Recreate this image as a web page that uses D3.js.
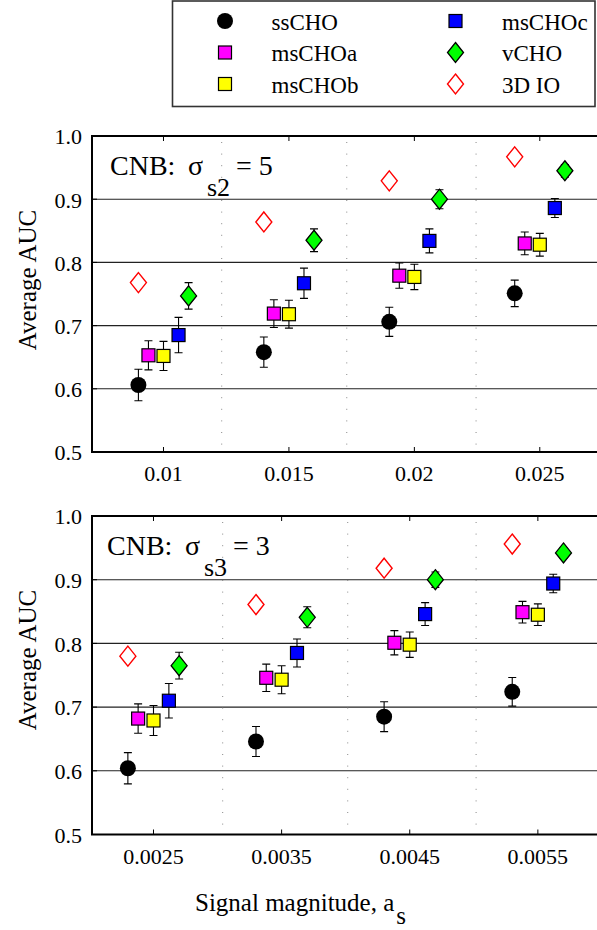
<!DOCTYPE html>
<html>
<head>
<meta charset="utf-8">
<script src="https://cdn.jsdelivr.net/npm/d3@7"></script>
<style>
  body { margin: 0; background: #fff; }
  svg { display: block; font-family: "Liberation Serif", "DejaVu Serif", serif; }
</style>
</head>
<body>
<svg id="chart" width="597" height="930"></svg>
<script>
var seriesNames = ['ssCHO', 'msCHOa', 'msCHOb', 'msCHOc', 'vCHO', '3D IO'];
var seriesOffsets = [-0.2, -0.12, 0, 0.12, 0.2, -0.2];
var groupIndex = [1, 2, 3, 4];
var yTicks = [0.5, 0.6, 0.7, 0.8, 0.9, 1.0];
var yGrid = [0.6, 0.7, 0.8, 0.9];

// panel 1 : CNB sigma_s2 = 5
var topTickLabels = ['0.01', '0.015', '0.02', '0.025'];
var topDotted = [1.464, 2.461, 3.492];
var topMeans = [
  [0.606, 0.658, 0.706, 0.751],
  [0.653, 0.719, 0.779, 0.830],
  [0.652, 0.718, 0.777, 0.828],
  [0.685, 0.767, 0.834, 0.886],
  [0.747, 0.835, 0.900, 0.945],
  [0.768, 0.864, 0.929, 0.967]
];
var topErrors = [
  [0.025, 0.024, 0.023, 0.021],
  [0.023, 0.022, 0.020, 0.018],
  [0.023, 0.022, 0.020, 0.018],
  [0.028, 0.024, 0.019, 0.015],
  [0.021, 0.018, 0.015, 0.010],
  null
];

// panel 2 : CNB sigma_s3 = 3
var bottomTickLabels = ['0.0025', '0.0035', '0.0045', '0.0055'];
var bottomDotted = [1.540, 2.516, 3.518];
var bottomMeans = [
  [0.604, 0.646, 0.685, 0.724],
  [0.682, 0.746, 0.801, 0.849],
  [0.679, 0.743, 0.798, 0.845],
  [0.710, 0.785, 0.846, 0.894],
  [0.765, 0.841, 0.900, 0.942],
  [0.780, 0.861, 0.918, 0.956]
];
var bottomErrors = [
  [0.0245, 0.0235, 0.0235, 0.0225],
  [0.023, 0.0215, 0.019, 0.017],
  [0.0235, 0.022, 0.020, 0.017],
  [0.027, 0.022, 0.018, 0.0145],
  [0.021, 0.0165, 0.012, 0.008],
  null
];

var svg = d3.select('#chart');

function diamond(x, y) {
  return 'M' + x + ',' + (y - 10) + 'L' + (x + 8) + ',' + y +
    'L' + x + ',' + (y + 10) + 'L' + (x - 8) + ',' + y + 'Z';
}

function drawMarker(g, i, x, y) {
  if (i === 0) {
    g.append('circle').attr('cx', x).attr('cy', y).attr('r', 8)
      .attr('fill', '#000');
  } else if (i >= 1 && i <= 3) {
    var fill = ['#ff00ff', '#ffff00', '#0000ff'][i - 1];
    g.append('rect').attr('x', x - 6.5).attr('y', y - 6.5)
      .attr('width', 13).attr('height', 13)
      .attr('fill', fill).attr('stroke', '#000').attr('stroke-width', 1.2);
  } else if (i === 4) {
    g.append('path').attr('d', diamond(x, y))
      .attr('fill', '#00ff00').attr('stroke', '#000').attr('stroke-width', 1.3);
  } else {
    g.append('path').attr('d', diamond(x, y))
      .attr('fill', 'none').attr('stroke', '#ff0000').attr('stroke-width', 1.4);
  }
}

function drawPanel(opt) {
  var x = d3.scaleLinear().domain(opt.xDomain).range([92, 600]);
  var y = d3.scaleLinear().domain([0.5, 1.0]).range([opt.bottom, opt.top]);
  var g = svg.append('g').attr('class', 'panel');

  // grid
  g.selectAll('line.hgrid')
    .data(yGrid)
    .enter()
    .append('line')
    .attr('class', 'hgrid')
    .attr('x1', x.range()[0]).attr('x2', x.range()[1])
    .attr('y1', function(d) { return y(d); })
    .attr('y2', function(d) { return y(d); })
    .attr('stroke', '#222').attr('stroke-width', 1.1);

  g.selectAll('line.vgrid')
    .data(opt.dotted)
    .enter()
    .append('line')
    .attr('class', 'vgrid')
    .attr('x1', function(d) { return x(d); })
    .attr('x2', function(d) { return x(d); })
    .attr('y1', opt.top + 6).attr('y2', opt.bottom)
    .attr('stroke', '#888').attr('stroke-width', 1)
    .attr('stroke-dasharray', '1,10.6');

  // ticks on top and bottom edge
  g.selectAll('line.xtick')
    .data(groupIndex)
    .enter()
    .append('line')
    .attr('x1', function(d) { return x(d); })
    .attr('x2', function(d) { return x(d); })
    .attr('y1', opt.bottom).attr('y2', opt.bottom - 5)
    .attr('stroke', '#000');
  g.selectAll('line.xtick2')
    .data(groupIndex)
    .enter()
    .append('line')
    .attr('x1', function(d) { return x(d); })
    .attr('x2', function(d) { return x(d); })
    .attr('y1', opt.top).attr('y2', opt.top + 5)
    .attr('stroke', '#000');
  g.selectAll('line.ytick')
    .data(yTicks)
    .enter()
    .append('line')
    .attr('x1', 92).attr('x2', 97)
    .attr('y1', function(d) { return y(d); })
    .attr('y2', function(d) { return y(d); })
    .attr('stroke', '#000');

  // frame
  g.append('path')
    .attr('d', 'M600,' + opt.top + 'H92V' + opt.bottom + 'H600')
    .attr('fill', 'none').attr('stroke', '#000').attr('stroke-width', 2);

  // tick labels
  g.selectAll('text.ylab')
    .data(yTicks)
    .enter()
    .append('text')
    .attr('x', 82)
    .attr('y', function(d) { return y(d); })
    .attr('dy', '0.38em')
    .attr('text-anchor', 'end')
    .attr('font-size', 22)
    .text(function(d) { return d.toFixed(1); });

  g.selectAll('text.xlab')
    .data(groupIndex)
    .enter()
    .append('text')
    .attr('x', function(d) { return x(d); })
    .attr('y', opt.bottom + 29)
    .attr('text-anchor', 'middle')
    .attr('font-size', 22)
    .text(function(d, i) { return opt.tickLabels[i]; });

  // y axis label
  g.append('text')
    .attr('transform', 'translate(36,' + (opt.top + 144) + ') rotate(-90)')
    .attr('text-anchor', 'middle')
    .attr('font-size', 25)
    .text('Average AUC');

  // annotation
  var t = g.append('text').attr('font-size', 28).attr('y', opt.top + 39);
  t.append('tspan').attr('x', opt.noteX).text('CNB:');
  t.append('tspan').attr('x', opt.noteX + 78).text('\u03c3');
  t.append('tspan').attr('x', opt.noteX + 97).attr('dy', 21)
    .attr('font-size', 26).text(opt.sub);
  t.append('tspan').attr('x', opt.noteX + 126).attr('dy', -21).text('= ' + opt.val);

  // error bars
  seriesNames.forEach(function(name, si) {
    var errs = opt.errors[si];
    if (!errs) return;
    groupIndex.forEach(function(gi, k) {
      var cx = x(gi + seriesOffsets[si]);
      var lo = y(opt.means[si][k] - errs[k]);
      var hi = y(opt.means[si][k] + errs[k]);
      g.append('path')
        .attr('d', 'M' + cx + ',' + lo + 'V' + hi +
          'M' + (cx - 4) + ',' + lo + 'H' + (cx + 4) +
          'M' + (cx - 4) + ',' + hi + 'H' + (cx + 4))
        .attr('fill', 'none').attr('stroke', '#000').attr('stroke-width', 1.1);
    });
  });

  // markers
  seriesNames.forEach(function(name, si) {
    groupIndex.forEach(function(gi, k) {
      drawMarker(g, si, x(gi + seriesOffsets[si]), y(opt.means[si][k]));
    });
  });
}

drawPanel({
  top: 136, bottom: 452, xDomain: [0.43, 4.48],
  tickLabels: topTickLabels, dotted: topDotted,
  means: topMeans, errors: topErrors,
  noteX: 110, sub: 's2', val: '5'
});

drawPanel({
  top: 516, bottom: 834.5, xDomain: [0.52, 4.485],
  tickLabels: bottomTickLabels, dotted: bottomDotted,
  means: bottomMeans, errors: bottomErrors,
  noteX: 107, sub: 's3', val: '3'
});

// x axis label
var xl = svg.append('text').attr('font-size', 25).attr('y', 911);
xl.append('tspan').attr('x', 195).text('Signal magnitude, a');
xl.append('tspan').attr('dx', 2).attr('dy', 13).text('s');

// legend
var legend = svg.append('g').attr('class', 'legend');
legend.append('rect')
  .attr('x', 172.5).attr('y', 1).attr('width', 422.5).attr('height', 105.5)
  .attr('fill', '#fff').attr('stroke', '#333').attr('stroke-width', 1.6);
var legendCols = [225, 455.5];
var legendRows = [21, 52.5, 84];
seriesNames.forEach(function(name, i) {
  var col = i < 3 ? 0 : 1;
  var row = i % 3;
  drawMarker(legend, i, legendCols[col], legendRows[row]);
  legend.append('text')
    .attr('x', legendCols[col] + 46.5)
    .attr('y', legendRows[row] + 8.5)
    .attr('font-size', 23)
    .text(name);
});
</script>
</body>
</html>
